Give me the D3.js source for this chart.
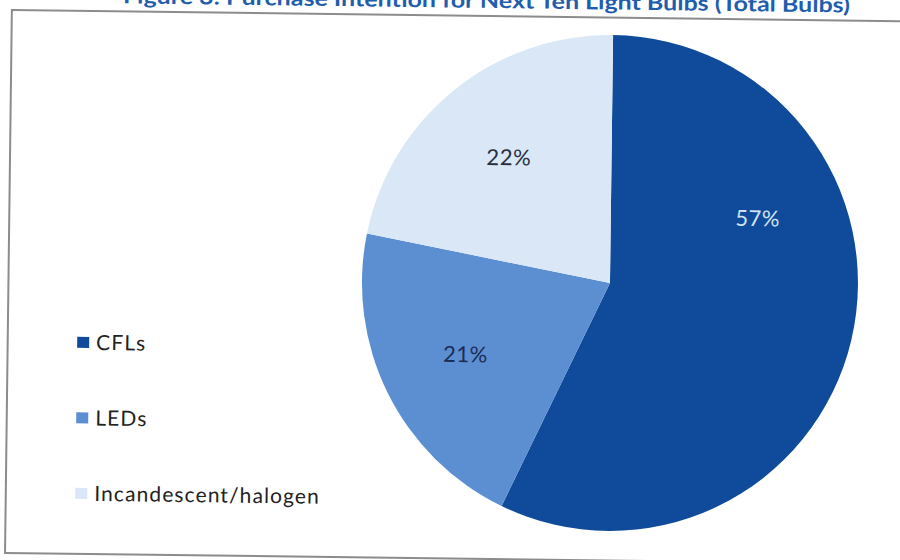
<!DOCTYPE html>
<html>
<head>
<meta charset="utf-8">
<script src="https://cdn.jsdelivr.net/npm/d3@7"></script>
<style>
  html, body { margin: 0; padding: 0; background: #ffffff; }
  svg { display: block; }
</style>
</head>
<body>
<svg id="chart" width="900" height="560"></svg>
<script>
// Purchase intention shares for the next ten light bulbs
const categories = ["CFLs", "LEDs", "Incandescent/halogen"];
const shares = [57, 21, 22];
const labels = ["57%", "21%", "22%"];
const titleText = "Figure 3: Purchase Intention for Next Ten Light Bulbs (Total Bulbs)";

// Layout & style
const W = 900, H = 560;
const colors = ["#0f4b9a", "#5b8fd1", "#d9e7f6"];
const labelColors = ["#d3e2f4", "#1b2d57", "#2a2f3f"];
const labelAt = [0.32, 0.5, 0.5];   // where along each slice its label sits
const cx = 610, cy = 281, R = 248;

const svg = d3.select("#chart");
const root = svg.append("g").attr("transform", "rotate(0.72, 450, 280)");

// Title
root.append("text")
  .attr("x", 483).attr("y", 7.5)
  .attr("text-anchor", "middle")
  .attr("font-family", "Lato, 'Open Sans', sans-serif")
  .attr("font-weight", "bold")
  .attr("font-size", 21)
  .attr("fill", "#1f5eae")
  .attr("textLength", 727)
  .attr("lengthAdjust", "spacingAndGlyphs")
  .text(titleText);

// Chart frame
root.append("rect")
  .attr("x", 8.5).attr("y", 15.5)
  .attr("width", 930).attr("height", 543)
  .attr("fill", "none")
  .attr("stroke", "#8c8c8c")
  .attr("stroke-width", 2);

// Pie
const pie = d3.pie().sort(null).value(d => d).startAngle(0).endAngle(2 * Math.PI);
const arcs = pie(shares);
const arc = d3.arc().innerRadius(0).outerRadius(R);

const g = root.append("g").attr("transform", `translate(${cx},${cy})`);
g.selectAll("path.slice")
  .data(arcs)
  .join("path")
  .attr("class", "slice")
  .attr("d", arc)
  .attr("fill", (d, i) => colors[i]);

// Slice labels
const lr = R * 0.65;
g.selectAll("text.lbl")
  .data(arcs)
  .join("text")
  .attr("class", "lbl")
  .attr("transform", (d, i) => {
    const a = d.startAngle + (d.endAngle - d.startAngle) * labelAt[i];
    return `translate(${lr * Math.sin(a)},${-lr * Math.cos(a)})`;
  })
  .attr("text-anchor", "middle")
  .attr("dy", "0.35em")
  .attr("font-family", "Lato, 'Open Sans', sans-serif")
  .attr("font-size", 22)
  .attr("letter-spacing", 0.5)
  .attr("fill", (d, i) => labelColors[i])
  .text((d, i) => labels[i]);

// Legend
const legend = root.append("g");
const item = legend.selectAll("g")
  .data(categories)
  .join("g")
  .attr("transform", (d, i) => `translate(78, ${347 + i * 75.5})`);
item.append("rect")
  .attr("x", 0).attr("y", -5.5)
  .attr("width", 12).attr("height", 11)
  .attr("fill", (d, i) => colors[i]);
item.append("text")
  .attr("x", 19).attr("y", 0)
  .attr("dy", "0.35em")
  .attr("font-family", "Lato, 'Open Sans', sans-serif")
  .attr("font-size", 21)
  .attr("letter-spacing", 1.1)
  .attr("fill", "#222222")
  .text(d => d);
</script>
</body>
</html>
